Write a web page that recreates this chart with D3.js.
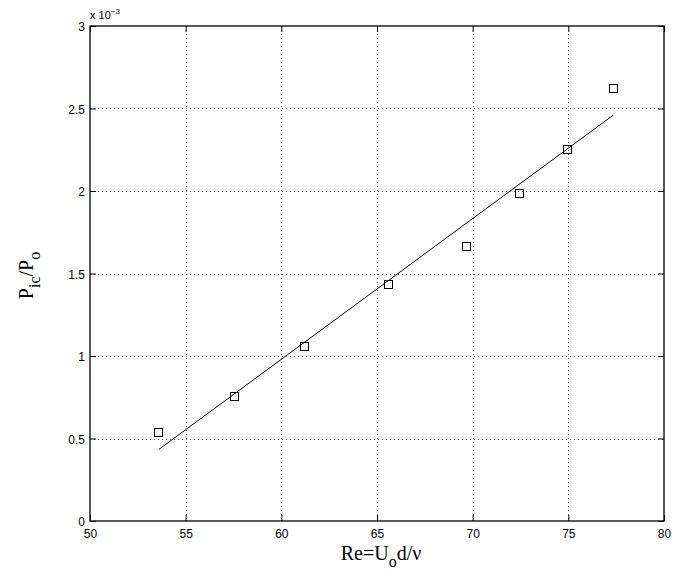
<!DOCTYPE html>
<html>
<head>
<meta charset="utf-8">
<script src="https://cdn.jsdelivr.net/npm/d3@7"></script>
<style>
body { margin: 0; background: #fff; }
</style>
</head>
<body>
<script>
// measured points (Re, Pic/Po in units of 1e-3)
const reValues = [53.55, 57.55, 61.2, 65.6, 69.65, 72.4, 74.95, 77.35];
const pValues = [0.539, 0.757, 1.06, 1.436, 1.667, 1.986, 2.255, 2.624];
// fitted line endpoints
const fitRe = [53.6, 77.35];
const fitP = [0.434, 2.46];
const xTicks = [50, 55, 60, 65, 70, 75, 80];
const yTicks = [0, 0.5, 1, 1.5, 2, 2.5, 3];

const width = 685, height = 571;
const margin = {top: 26, left: 90, right: 21, bottom: 50};

const svg = d3.select(document.body).append("svg")
    .attr("width", width)
    .attr("height", height);

const x = d3.scaleLinear().domain([50, 80]).range([margin.left, width - margin.right]);
const y = d3.scaleLinear().domain([0, 3]).range([height - margin.bottom, margin.top]);

const x0 = x.range()[0], x1 = x.range()[1];
const y0 = y.range()[0], y1 = y.range()[1];

// grid
const grid = svg.append("g")
    .attr("stroke", "#555")
    .attr("stroke-width", 1)
    .attr("stroke-dasharray", "1,3");
grid.selectAll("line.gx")
    .data(xTicks.slice(1, -1))
    .join("line")
    .attr("x1", d => Math.round(x(d)) + 0.5)
    .attr("x2", d => Math.round(x(d)) + 0.5)
    .attr("y1", y1)
    .attr("y2", y0);
grid.selectAll("line.gy")
    .data(yTicks.slice(1, -1))
    .join("line")
    .attr("y1", d => Math.round(y(d)) + 0.5)
    .attr("y2", d => Math.round(y(d)) + 0.5)
    .attr("x1", x0)
    .attr("x2", x1);

// axes with inward ticks
const tickLen = 6;
const tickFont = "Liberation Sans, Arial, sans-serif";

const axBottom = svg.append("g")
    .attr("transform", `translate(0,${y0})`)
    .call(d3.axisBottom(x).tickValues(xTicks).tickSizeInner(-tickLen).tickSizeOuter(0).tickPadding(8));
const axTop = svg.append("g")
    .attr("transform", `translate(0,${y1})`)
    .call(d3.axisTop(x).tickValues(xTicks).tickSizeInner(-tickLen).tickSizeOuter(0).tickFormat(""));
const axLeft = svg.append("g")
    .attr("transform", `translate(${x0},0)`)
    .call(d3.axisLeft(y).tickValues(yTicks).tickSizeInner(-tickLen).tickSizeOuter(0).tickPadding(5).tickFormat(d3.format("")));
const axRight = svg.append("g")
    .attr("transform", `translate(${x1},0)`)
    .call(d3.axisRight(y).tickValues(yTicks).tickSizeInner(-tickLen).tickSizeOuter(0).tickFormat(""));

[axBottom, axTop, axLeft, axRight].forEach(g => {
    g.select(".domain").remove();
    g.selectAll(".tick line").attr("stroke", "#000");
    g.selectAll(".tick text")
        .attr("fill", "#000")
        .style("font-family", tickFont)
        .style("font-size", "12px");
});
axLeft.selectAll(".tick text").attr("dy", "0.4em");

// box
svg.append("rect")
    .attr("x", x0)
    .attr("y", y1)
    .attr("width", x1 - x0)
    .attr("height", y0 - y1)
    .attr("fill", "none")
    .attr("stroke", "#000")
    .attr("stroke-width", 1.3);

// exponent label
const expo = svg.append("text")
    .attr("x", x0)
    .attr("y", y1 - 7)
    .style("font-family", tickFont)
    .style("font-size", "11px");
expo.append("tspan").text("x 10");
expo.append("tspan").attr("dy", -5).style("font-size", "8px").text("−3");

// fit line
svg.append("line")
    .attr("x1", x(fitRe[0]))
    .attr("y1", y(fitP[0]))
    .attr("x2", x(fitRe[1]))
    .attr("y2", y(fitP[1]))
    .attr("stroke", "#000")
    .attr("stroke-width", 1);

// markers
const s = 8;
svg.append("g").selectAll("rect")
    .data(reValues.map((r, i) => [r, pValues[i]]))
    .join("rect")
    .attr("x", d => Math.round(x(d[0]) - s / 2) + 0.5)
    .attr("y", d => Math.round(y(d[1]) - s / 2) + 0.5)
    .attr("width", s)
    .attr("height", s)
    .attr("fill", "none")
    .attr("stroke", "#000")
    .attr("stroke-width", 1);

// axis labels
const serif = "Liberation Serif, Times New Roman, serif";
const xl = svg.append("text")
    .attr("x", (x0 + x1) / 2 + 4)
    .attr("y", 560)
    .attr("text-anchor", "middle")
    .style("font-family", serif)
    .style("font-size", "20px");
xl.append("tspan").text("Re=U");
xl.append("tspan").attr("dy", 7).style("font-size", "16px").text("o");
xl.append("tspan").attr("dy", -7).text("d/ν");

const yl = svg.append("text")
    .attr("transform", `translate(33,${(y0 + y1) / 2 + 2}) rotate(-90)`)
    .attr("text-anchor", "middle")
    .style("font-family", serif)
    .style("font-size", "20px");
yl.append("tspan").text("P");
yl.append("tspan").attr("dy", 7).style("font-size", "16px").text("ic");
yl.append("tspan").attr("dy", -7).text("/P");
yl.append("tspan").attr("dy", 7).style("font-size", "16px").text("o");
</script>
</body>
</html>
